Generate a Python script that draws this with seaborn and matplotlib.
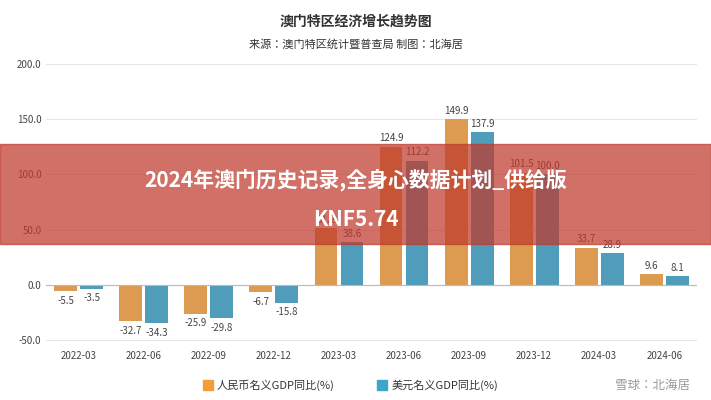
import pandas as pd
import seaborn as sns
import matplotlib.pyplot as plt
from matplotlib.patches import Rectangle

plt.rcParams['font.family'] = 'sans-serif'
plt.rcParams['font.sans-serif'] = ['Noto Sans CJK SC', 'Noto Sans CJK JP', 'Noto Sans CJK TC', 'DejaVu Sans']

kvartaly = ['2022-03', '2022-06', '2022-09', '2022-12', '2023-03', '2023-06',
            '2023-09', '2023-12', '2024-03', '2024-06']
rmb = [-5.5, -32.7, -25.9, -6.7, 51.2, 124.9, 149.9, 101.5, 33.7, 9.6]
usd = [-3.5, -34.3, -29.8, -15.8, 38.6, 112.2, 137.9, 100.0, 28.9, 8.1]
serie = ['人民币名义GDP同比(%)', '美元名义GDP同比(%)']

df = pd.DataFrame({'q': kvartaly * 2, 'v': rmb + usd,
                   's': [serie[0]] * 10 + [serie[1]] * 10})

fig = plt.figure(figsize=(7.11, 4.0), dpi=100)
ax = fig.add_axes([0.065, 0.135, 0.915, 0.72])
sns.barplot(data=df, x='q', y='v', hue='s', palette=['#F39C3A', '#3DA5CC'],
            width=0.8, gap=0.12, ax=ax, legend=False)
for i, (a, b) in enumerate(zip(rmb, usd)):
    for off, val in ((-0.2, a), (0.2, b)):
        y = val + 3 if val >= 0 else val - 4
        ax.text(i + off, y, f'{val:.1f}', ha='center',
                va='bottom' if val >= 0 else 'top', fontsize=7, color='#444')
ax.set_ylim(-55, 205)
ax.set_yticks([-50, 0, 50, 100, 150, 200])
ax.set_yticklabels([f'{t:.1f}' for t in [-50, 0, 50, 100, 150, 200]])
ax.tick_params(labelsize=7, colors='#444', length=0)
ax.set_xlabel('')
ax.set_ylabel('')
ax.grid(axis='y', color='#e6e6e6', lw=0.8)
ax.set_axisbelow(True)
for s in ax.spines.values():
    s.set_visible(False)
ax.axhline(0, color='#bbb', lw=0.8)

fig.text(0.5, 0.935, '澳门特区经济增长趋势图', ha='center', fontsize=10, color='#333', weight='bold')
fig.text(0.5, 0.88, '来源：澳门特区统计暨普查局 制图：北海居', ha='center', fontsize=8,
         color='#333', style='italic')

fig.patches.append(Rectangle((0.285, 0.025), 0.015, 0.025, transform=fig.transFigure, color='#F39C3A'))
fig.text(0.305, 0.037, serie[0], fontsize=8, va='center', color='#333')
fig.patches.append(Rectangle((0.53, 0.025), 0.015, 0.025, transform=fig.transFigure, color='#3DA5CC'))
fig.text(0.55, 0.037, serie[1], fontsize=8, va='center', color='#333')
fig.text(0.97, 0.037, '雪球：北海居', fontsize=9, va='center', ha='right', color='#999')

# banner
fig.patches.append(Rectangle((0, 0.39), 1, 0.25, transform=fig.transFigure,
                             color='#C0392B', alpha=0.72, zorder=5))
fig.text(0.5, 0.55, '2024年澳门历史记录,全身心数据计划_供给版', ha='center', va='center',
         fontsize=15, color='white', weight='bold', zorder=6)
fig.text(0.5, 0.45, 'KNF5.74', ha='center', va='center', fontsize=15, color='white',
         weight='bold', zorder=6)

fig.savefig('out.png', dpi=100)
